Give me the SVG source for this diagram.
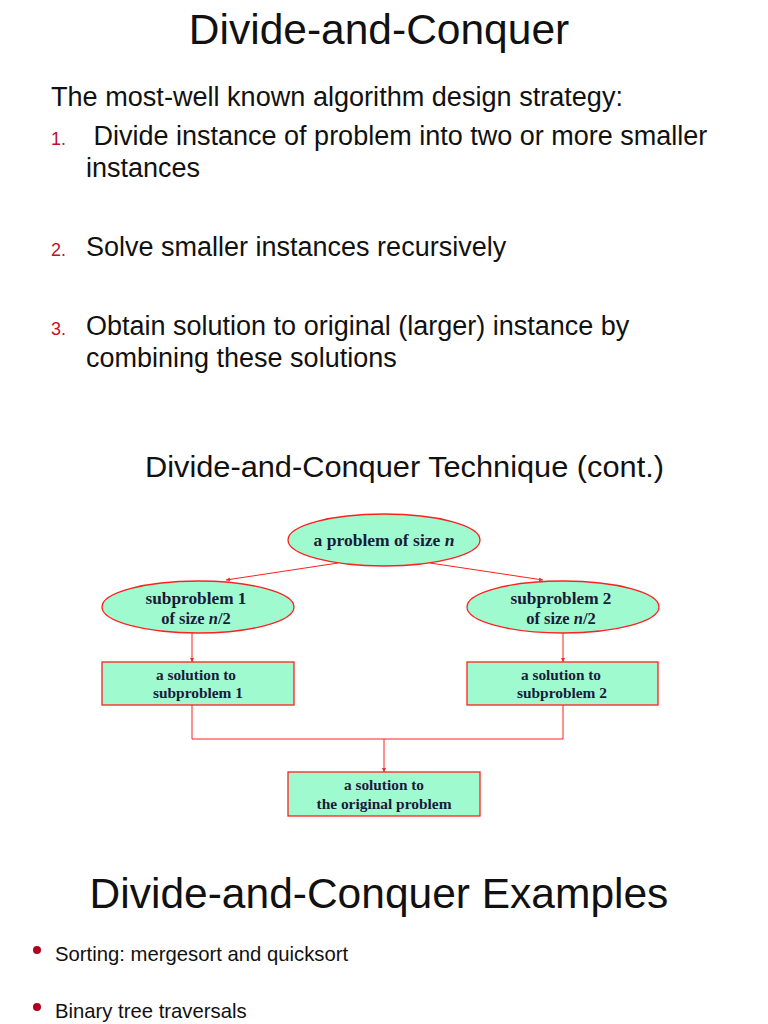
<svg xmlns="http://www.w3.org/2000/svg" width="768" height="1024" viewBox="0 0 768 1024">
<defs>
<marker id="arr" viewBox="0 0 6 6" refX="6" refY="3" markerWidth="4" markerHeight="4" orient="auto"><path d="M0,0 L6,3 L0,6 z" fill="#ff2020"/></marker>
<style>
.sans{font-family:"Liberation Sans",Arial,sans-serif;fill:#111}
.num{font-family:"Liberation Sans",Arial,sans-serif;fill:#c0102c;font-size:18px}
.node{fill:#a0fad0;stroke:#ff2020;stroke-width:1.3}
.lbl{font-family:"Liberation Serif","Times New Roman",serif;font-weight:bold;fill:#1a1a3a;text-anchor:middle}
.edge{fill:none;stroke:#ff2020;stroke-width:1}
</style>
</defs>
<rect width="768" height="1024" fill="#fff"/>
<text class="sans" x="379" y="44" font-size="42.5" text-anchor="middle">Divide-and-Conquer</text>
<text class="sans" x="51" y="106" font-size="27" textLength="572" lengthAdjust="spacingAndGlyphs">The most-well known algorithm design strategy:</text>
<text class="num" x="51" y="145">1.</text>
<text class="sans" x="86" y="145" font-size="27" xml:space="preserve"> Divide instance of problem into two or more smaller</text>
<text class="sans" x="86" y="177" font-size="27">instances</text>
<text class="num" x="51" y="256">2.</text>
<text class="sans" x="86" y="256" font-size="27">Solve smaller instances recursively</text>
<text class="num" x="51" y="335">3.</text>
<text class="sans" x="86" y="335" font-size="27">Obtain solution to original (larger) instance by</text>
<text class="sans" x="86" y="367" font-size="27">combining these solutions</text>
<text class="sans" x="145" y="477" font-size="29" textLength="519" lengthAdjust="spacingAndGlyphs">Divide-and-Conquer Technique (cont.)</text>
<g id="connectors">
<path class="edge" d="M338,563 L226,580" marker-end="url(#arr)"/>
<path class="edge" d="M430,563 L543,580" marker-end="url(#arr)"/>
<path class="edge" d="M192,633 L192,662" marker-end="url(#arr)"/>
<path class="edge" d="M563,633 L563,662" marker-end="url(#arr)"/>
<path class="edge" d="M192,705 L192,739 L563,739 L563,705"/>
<path class="edge" d="M384,739 L384,772" marker-end="url(#arr)"/>
</g>
<g id="problem">
<ellipse class="node" cx="384" cy="540" rx="96" ry="26"/>
<text class="lbl" x="384" y="546" font-size="16.5" textLength="141" lengthAdjust="spacingAndGlyphs">a problem of size <tspan font-style="italic">n</tspan></text>
</g>
<g id="sub1">
<ellipse class="node" cx="198" cy="607" rx="96" ry="26"/>
<text class="lbl" x="196" y="604" font-size="16.5" textLength="101" lengthAdjust="spacingAndGlyphs">subproblem 1</text>
<text class="lbl" x="196" y="624" font-size="16.5">of size <tspan font-style="italic">n</tspan>/2</text>
</g>
<g id="sub2">
<ellipse class="node" cx="563" cy="607" rx="96" ry="26"/>
<text class="lbl" x="561" y="604" font-size="16.5" textLength="101" lengthAdjust="spacingAndGlyphs">subproblem 2</text>
<text class="lbl" x="561" y="624" font-size="16.5">of size <tspan font-style="italic">n</tspan>/2</text>
</g>
<g id="sol1">
<rect class="node" x="102" y="662" width="192" height="43"/>
<text class="lbl" x="196" y="680" font-size="14.5" textLength="80" lengthAdjust="spacingAndGlyphs">a solution to</text>
<text class="lbl" x="198" y="698" font-size="14.5" textLength="90" lengthAdjust="spacingAndGlyphs">subproblem 1</text>
</g>
<g id="sol2">
<rect class="node" x="467" y="662" width="191" height="43"/>
<text class="lbl" x="561" y="680" font-size="14.5" textLength="80" lengthAdjust="spacingAndGlyphs">a solution to</text>
<text class="lbl" x="562" y="698" font-size="14.5" textLength="90" lengthAdjust="spacingAndGlyphs">subproblem 2</text>
</g>
<g id="solution">
<rect class="node" x="288" y="772" width="192" height="44"/>
<text class="lbl" x="384" y="790" font-size="14.5" textLength="80" lengthAdjust="spacingAndGlyphs">a solution to</text>
<text class="lbl" x="384" y="809" font-size="14.5" textLength="135" lengthAdjust="spacingAndGlyphs">the original problem</text>
</g>
<text class="sans" x="379" y="908" font-size="42.5" text-anchor="middle">Divide-and-Conquer Examples</text>
<circle cx="37" cy="950" r="4" fill="#b00020"/>
<text class="sans" x="55" y="961" font-size="20.3">Sorting: mergesort and quicksort</text>
<circle cx="37" cy="1007" r="4" fill="#b00020"/>
<text class="sans" x="55" y="1018" font-size="20.3">Binary tree traversals</text>
</svg>
